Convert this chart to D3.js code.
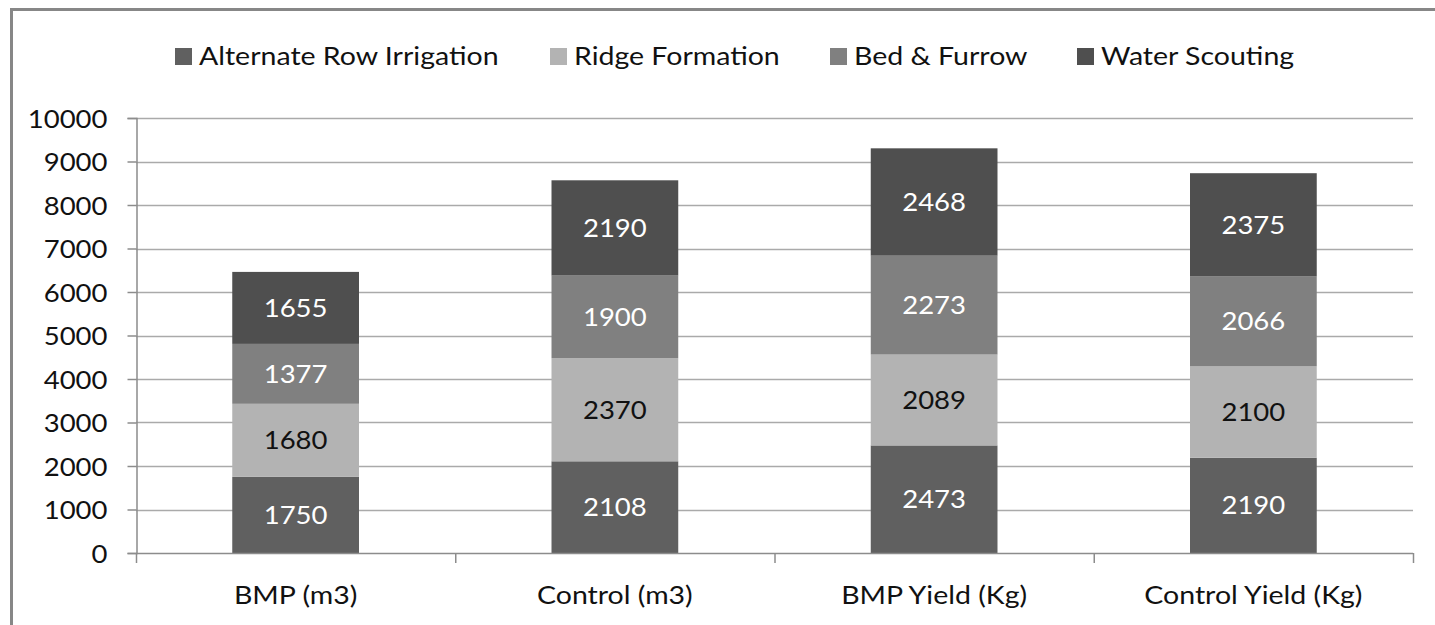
<!DOCTYPE html>
<html><head><meta charset="utf-8">
<script src="https://cdn.jsdelivr.net/npm/d3@7"></script>
<style>
html,body{margin:0;padding:0;background:#fff;}
svg{display:block;font-family:Lato, "Open Sans", sans-serif;}
</style></head>
<body>
<svg id="chart" width="1435" height="625"></svg>
<script>
const categories = ["BMP (m3)", "Control (m3)", "BMP Yield (Kg)", "Control Yield (Kg)"];
const seriesNames = ["Alternate Row Irrigation", "Ridge Formation", "Bed & Furrow", "Water Scouting"];
const alternateRow = [1750, 2108, 2473, 2190];
const ridgeFormation = [1680, 2370, 2089, 2100];
const bedFurrow = [1377, 1900, 2273, 2066];
const waterScouting = [1655, 2190, 2468, 2375];
const yTicks = [0, 1000, 2000, 3000, 4000, 5000, 6000, 7000, 8000, 9000, 10000];
const colors = ["#606060", "#b3b3b3", "#808080", "#4f4f4f"];
const labelColors = ["#ffffff", "#111111", "#ffffff", "#ffffff"];

const seriesValues = [alternateRow, ridgeFormation, bedFurrow, waterScouting];
const table = categories.map((c, i) => {
  const row = {category: c};
  seriesNames.forEach((s, j) => row[s] = seriesValues[j][i]);
  return row;
});
const stacked = d3.stack().keys(seriesNames)(table);

// horizontally stretch text to mimic the wider original font
function stretch(sel, sx) {
  sel.each(function () {
    const t = d3.select(this);
    const tx = +t.attr("x") || 0, ty = +t.attr("y") || 0;
    t.attr("x", 0).attr("y", 0).attr("transform", `translate(${tx},${ty}) scale(${sx},1)`);
  });
}

const svg = d3.select("#chart");
const plotL = 136, plotR = 1413, plotT = 118, plotB = 553;

const x = d3.scaleBand().domain(categories).range([plotL, plotR]).paddingInner(0).paddingOuter(0);
const y = d3.scaleLinear().domain([0, 10000]).range([plotB, plotT]);
const barW = x.bandwidth() * 0.397;

// outer border (left and top)
svg.append("path").attr("d", `M11.5,625 L11.5,9.5 L1435,9.5`)
  .attr("fill", "none").attr("stroke", "#878787").attr("stroke-width", 3);

// gridlines
svg.append("g").selectAll("line").data(yTicks.filter(t => t > 0)).join("line")
  .attr("x1", plotL).attr("x2", plotR)
  .attr("y1", d => Math.round(y(d)) + 0.5).attr("y2", d => Math.round(y(d)) + 0.5)
  .attr("stroke", "#aaaaaa").attr("stroke-width", 1.5);

// y axis
const yAxis = svg.append("g").attr("transform", `translate(${plotL + 0.5},0)`)
  .call(d3.axisLeft(y).tickValues(yTicks).tickSize(9).tickPadding(20).tickFormat(d3.format("d")));
yAxis.select(".domain").attr("stroke", "#8c8c8c").attr("stroke-width", 1.5);
yAxis.selectAll(".tick line").attr("stroke", "#8c8c8c").attr("stroke-width", 1.5);
const yTickText = yAxis.selectAll(".tick text").attr("font-size", 25).attr("fill", "#111")
  .attr("font-family", "Lato").attr("dy", "0.36em");
stretch(yTickText, 1.1);

// bars
const groups = svg.append("g").selectAll("g").data(stacked).join("g")
  .attr("fill", (d, i) => colors[i]);
groups.selectAll("rect").data(d => d).join("rect")
  .attr("x", d => x(d.data.category) + (x.bandwidth() - barW) / 2)
  .attr("width", barW)
  .attr("y", d => y(d[1]))
  .attr("height", d => y(d[0]) - y(d[1]));

// labels
const valueLabels = svg.append("g").selectAll("g").data(stacked).join("g")
  .attr("fill", (d, i) => labelColors[i])
  .selectAll("text").data(d => d).join("text")
  .attr("x", d => x(d.data.category) + x.bandwidth() / 2)
  .attr("y", d => (y(d[0]) + y(d[1])) / 2)
  .attr("dy", "0.36em")
  .attr("text-anchor", "middle")
  .attr("font-size", 25)
  .text(d => d[1] - d[0]);
stretch(valueLabels, 1.1);

// x axis
const xAxisLine = svg.append("g");
xAxisLine.append("line").attr("x1", plotL).attr("x2", plotR)
  .attr("y1", plotB + 0.5).attr("y2", plotB + 0.5).attr("stroke", "#8c8c8c").attr("stroke-width", 1.5);
const boundaries = categories.map(c => x(c)).concat([plotR]);
xAxisLine.selectAll("line.tk").data(boundaries).join("line").attr("class", "tk")
  .attr("x1", d => d + 0.5).attr("x2", d => d + 0.5)
  .attr("y1", plotB).attr("y2", plotB + 10)
  .attr("stroke", "#8c8c8c").attr("stroke-width", 1.5);
const catLabels = svg.append("g").selectAll("text").data(categories).join("text")
  .attr("x", d => x(d) + x.bandwidth() / 2)
  .attr("y", 604)
  .attr("text-anchor", "middle")
  .attr("font-size", 25).attr("fill", "#111")
  .text(d => d);
stretch(catLabels, 1.14);

// legend
const legendX = [175, 550, 830, 1077];
const legend = svg.append("g").selectAll("g").data(seriesNames).join("g")
  .attr("transform", (d, i) => `translate(${legendX[i]},0)`);
legend.append("rect").attr("x", 0).attr("y", 48).attr("width", 17).attr("height", 17)
  .attr("fill", (d, i) => colors[i]);
const legendText = legend.append("text").attr("x", 24).attr("y", 65).attr("font-size", 25).attr("fill", "#111")
  .text(d => d);
stretch(legendText, 1.14);
</script>
</body></html>
